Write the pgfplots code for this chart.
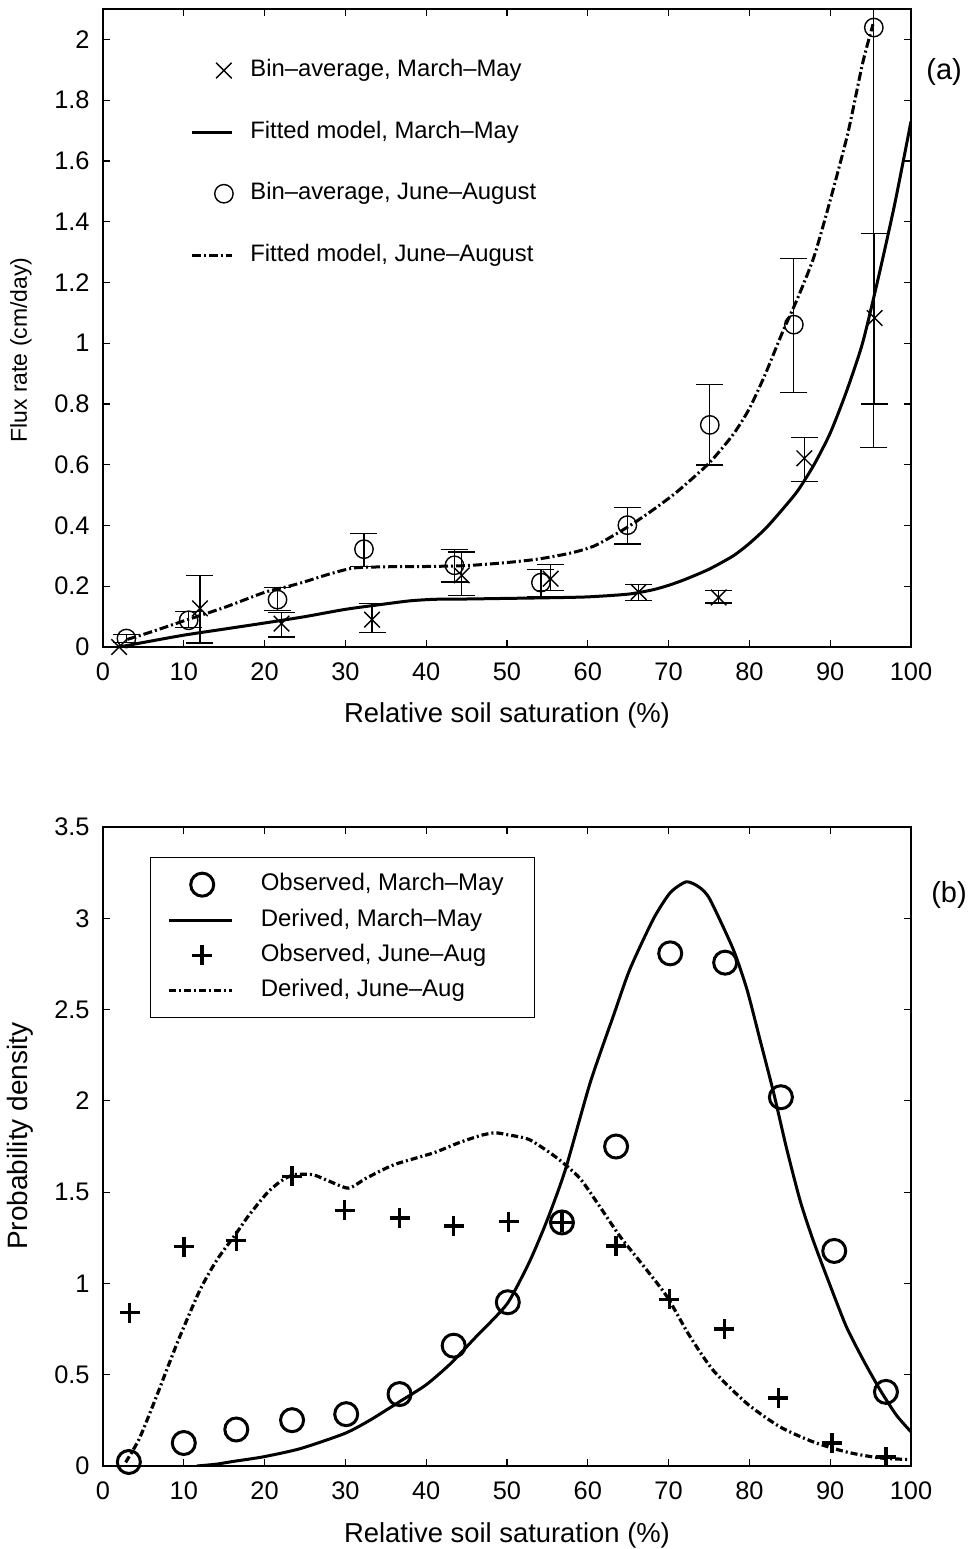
\documentclass[border=0pt]{standalone}
\usepackage{fontspec}
\setmainfont{Liberation Sans}
\usepackage{pgfplots}
\pgfplotsset{compat=1.18}
\pgfplotsset{
  myax/.style={
    scale only axis, width=404pt,
    xmin=0, xmax=100, xtick={0,10,20,30,40,50,60,70,80,90,100},
    tick align=inside, major tick length=3.5pt,
    axis line style={line width=0.6pt, black},
    major tick style={line width=0.6pt, black},
    /pgf/number format/assume math mode=true,
    ticklabel style={font=\fontsize{12.7pt}{15pt}\selectfont},
    xticklabel style={inner sep=0pt, yshift=-7.5pt},
    yticklabel style={inner sep=0pt, xshift=-6.5pt},
    xlabel={Relative soil saturation (\%)},
    xlabel style={at={(axis description cs:0.5,-0.119)}, anchor=base, inner sep=0pt, font=\fontsize{13.7pt}{16pt}\selectfont},
    legend cell align=left,
  },
  mimgA/.style={legend image code/.code={\draw[##1] plot coordinates {(16pt,0pt)};}},
  mimgB/.style={legend image code/.code={\draw[##1] plot coordinates {(16.5pt,0pt)};}},
  ebar/.style={draw=none, mark=none, forget plot,
    error bars/.cd, y dir=both, y explicit,
    error bar style={draw=black, line width=0.6pt, solid},
    error mark=-,
    error mark options={draw=black, line width=0.6pt, mark size=6.75pt, solid, rotate=90}},
}
\begin{document}
\begin{tikzpicture}
\useasboundingbox (-51.5pt,-451pt) rectangle (433.5pt,323.5pt);
% ---------------- (a)
\begin{axis}[myax, at={(0pt,0pt)}, anchor=south west, height=319pt,
  ymin=0, ymax=2.1,
  ytick={0,0.2,0.4,0.6,0.8,1,1.2,1.4,1.6,1.8,2},
  ylabel={Flux rate (cm/day)},
  ylabel style={at={(axis description cs:-0.1015,0.4655)}, anchor=center, font=\fontsize{11.5pt}{14pt}\selectfont},
  legend style={draw=none, fill=none, at={(axis description cs:0.1077,0.923)}, anchor=north west,
    inner sep=0pt, row sep=18.8pt, column sep=8.5pt, font=\fontsize{11.9pt}{14pt}\selectfont,
    nodes={inner sep=0pt, text height=9pt, text depth=3pt}},
  legend image code/.code={\draw[#1] (0pt,0pt) -- (20pt,0pt);},
  after end axis/.code={\node[font=\fontsize{14.5pt}{17pt}\selectfont] at (axis description cs:1.041,0.901) {(a)};}
]
% error bars, March-May
\addplot[ebar]
  table[x=x, y=y, y error plus=ep, y error minus=em] {
x y ep em
12.0 0.127 0.109 0.114
22.1 0.077 0.036 0.044
33.3 0.090 0.053 0.043
44.4 0.236 0.077 0.066
55.4 0.225 0.047 0.038
66.3 0.181 0.026 0.029
76.2 0.163 0.024 0.018
86.8 0.621 0.069 0.077
95.5 1.083 0.277 0.283
};
% error bars, June-August
\addplot[ebar]
  table[x=x, y=y, y error plus=ep, y error minus=em] {
x y ep em
2.9 0.028 0.012 0.013
10.6 0.088 0.030 0.024
21.6 0.156 0.039 0.036
32.3 0.322 0.052 0.056
43.5 0.269 0.053 0.055
54.2 0.212 0.043 0.047
64.9 0.401 0.057 0.062
75.1 0.731 0.134 0.132
85.5 1.061 0.219 0.222
95.4 2.039 1.380 1.382
};
\addplot[only marks, mark=x, mark size=5.5pt, line width=0.7pt, black, mimgA]
  table {
x y
2.0 0.0
12.0 0.127
22.1 0.077
33.3 0.090
44.4 0.236
55.4 0.225
66.3 0.181
76.2 0.163
86.8 0.621
95.5 1.083
};
\addlegendentry{Bin–average, March–May}
\addplot[black, line width=1.5pt, smooth, tension=0.4] coordinates {
(2,0) (5,0.015) (10,0.039) (15,0.059) (20,0.079) (25,0.1) (30,0.124) (35,0.142) (38,0.152) (41,0.157) (45,0.158) (50,0.16) (55,0.162) (60,0.165) (65,0.174) (68,0.188) (70,0.203) (72,0.222) (75,0.256) (78,0.3) (80,0.341) (82,0.39) (84,0.45) (86,0.515) (88,0.6) (90,0.704) (92,0.84) (94,1.0) (96,1.22) (98,1.46) (100,1.73)
};
\addlegendentry{Fitted model, March–May}
\addplot[only marks, mark=o, mark size=4.6pt, line width=0.7pt, black, mimgA]
  table {
x y
2.9 0.028
10.6 0.088
21.6 0.156
32.3 0.322
43.5 0.269
54.2 0.212
64.9 0.401
75.1 0.731
85.5 1.061
95.4 2.039
};
\addlegendentry{Bin–average, June–August}
\addplot[black, line width=1.5pt, smooth, tension=0.4, dash pattern=on 4.5pt off 1.5pt on 1pt off 1.5pt] coordinates {
(3,0.025) (6,0.05) (10,0.086) (15,0.13) (20,0.18) (23,0.2) (25,0.215) (28,0.24) (31,0.26) (35,0.264) (40,0.265) (45,0.268) (50,0.278) (54,0.29) (58,0.31) (61,0.335) (65,0.396) (68,0.45) (71,0.51) (75,0.605) (78,0.7) (80,0.785) (82,0.9) (84,1.03) (86,1.15) (88,1.285) (90,1.47) (92.2,1.693) (94,1.92) (95.3,2.05)
};
\addlegendentry{Fitted model, June–August}
\end{axis}
% ---------------- (b)
\begin{axis}[myax, at={(0pt,-409.5pt)}, anchor=south west, height=319.5pt,
  ymin=0, ymax=3.5,
  ytick={0,0.5,1,1.5,2,2.5,3,3.5},
  ylabel={Probability density},
  ylabel style={at={(axis description cs:-0.1027,0.516)}, anchor=center, font=\fontsize{14pt}{17pt}\selectfont},
  legend style={draw=black, line width=0.6pt, fill=white, at={(axis description cs:0.0582,0.953)}, anchor=north west,
    inner xsep=8.5pt, inner ysep=7.5pt, row sep=5.7pt, column sep=13.5pt, font=\fontsize{12pt}{14pt}\selectfont,
    nodes={inner sep=0pt, text height=9pt, text depth=3pt}},
  legend image code/.code={\draw[#1] (0pt,0pt) -- (31.5pt,0pt);},
  after end axis/.code={\node[font=\fontsize{14.5pt}{17pt}\selectfont] at (axis description cs:1.047,0.8936) {(b)};}
]
\addplot[only marks, mark=o, mark size=5.75pt, line width=1.5pt, black, mimgB]
  table {
x y
3.2 0.022
10.0 0.126
16.5 0.200
23.4 0.251
30.1 0.284
36.7 0.394
43.4 0.659
50.1 0.897
56.8 1.334
63.5 1.750
70.2 2.808
77.0 2.757
83.9 2.020
90.5 1.178
96.9 0.406
};
\addlegendentry{Observed, March–May\hspace*{7pt}}
\addplot[black, line width=1.5pt, smooth, tension=0.4] coordinates {
(11.6,0.0) (14,0.01) (16.1,0.025) (19.8,0.05) (24.4,0.095) (29.9,0.178) (33,0.25) (36.8,0.355) (40,0.445) (43,0.56) (46,0.7) (48,0.79) (50.2,0.9) (52.8,1.12) (55,1.35) (57.2,1.62) (60.3,2.1) (63.2,2.47) (65.2,2.72) (68.1,2.995) (70.2,3.14) (72.2,3.2) (73.8,3.17) (75.1,3.105) (78.0,2.83) (79.7,2.61) (81.3,2.337) (83.0,2.044) (84.6,1.74) (86.3,1.45) (87.9,1.235) (90.0,0.988) (92.0,0.763) (94.1,0.58) (96.2,0.415) (98.2,0.278) (100,0.187)
};
\addlegendentry{Derived, March–May}
\addplot[only marks, mark=+, mark size=5pt, line width=1.8pt, black, mimgB]
  table {
x y
3.3 0.840
10.0 1.202
16.5 1.235
23.4 1.586
29.9 1.400
36.7 1.358
43.4 1.316
50.2 1.339
56.8 1.334
63.5 1.206
70.1 0.913
76.9 0.750
83.6 0.373
90.2 0.126
96.9 0.049
};
\addlegendentry{Observed, June–Aug}
\addplot[black, line width=1.6pt, smooth, tension=0.4, dash pattern=on 3.5pt off 1.5pt on 1pt off 1.5pt] coordinates {
(2.8,0.02) (4.5,0.15) (6.6,0.379) (8,0.54) (9.5,0.708) (12,0.964) (14.1,1.129) (16.5,1.275) (18,1.37) (20.3,1.495) (22,1.56) (23.6,1.595) (26,1.595) (28,1.56) (30.4,1.522) (32.6,1.577) (36,1.65) (40.9,1.715) (44,1.77) (46.7,1.81) (48.5,1.825) (50,1.815) (52.8,1.787) (56.2,1.687) (59,1.577) (61.5,1.42) (64,1.257) (67,1.09) (69.8,0.928) (72.5,0.72) (75.5,0.525) (79.7,0.342) (83.8,0.214) (87.9,0.132) (92,0.077) (96,0.045) (100,0.035)
};
\addlegendentry{Derived, June–Aug}
\end{axis}
\end{tikzpicture}
\end{document}
